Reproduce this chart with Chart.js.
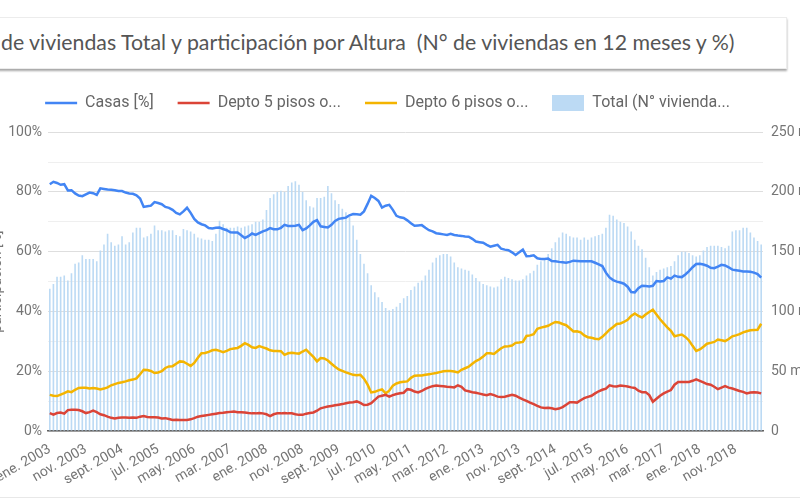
<!DOCTYPE html>
<html lang="es">
<head>
<meta charset="utf-8">
<script src="https://cdn.jsdelivr.net/npm/chart.js@4.4.1/dist/chart.umd.min.js"></script>
<style>
  html, body { margin: 0; padding: 0; background: #fff; }
  body { width: 800px; height: 500px; position: relative; overflow: hidden; }
  #title-box {
    position: absolute; left: -10px; top: 17px; width: 795px; height: 50px;
    border: 1px solid #ececec; background: #fff;
    box-shadow: 0 2px 2px rgba(0,0,0,0.35);
  }
  #title-box span {
    position: absolute; left: 10px; top: 11px;
    font-family: 'Lato', sans-serif; font-size: 21.3px; color: #555; white-space: nowrap;
  }
  #chart-wrap { position: absolute; left: -55px; top: 71px; width: 885px; height: 429px; }
  #bottom-line { position: absolute; left: 0; top: 497px; width: 800px; height: 1px; background: #e8e8e8; }
</style>
</head>
<body>
<div id="title-box"><span>de viviendas Total y participación por Altura&nbsp; (N° de viviendas en 12 meses y %)</span></div>
<div id="chart-wrap"><canvas id="chart"></canvas></div>
<div id="bottom-line"></div>
<script>
// month names used for the category labels (ene. 2003 ... jun. 2019)
const monthNames = ['ene.', 'feb.', 'mar.', 'abr.', 'may.', 'jun.', 'jul.', 'ago.', 'sept.', 'oct.', 'nov.', 'dic.'];
const firstYear = 2003;
const nMonths = 198;
const categories = [];
for (let i = 0; i < nMonths; i++) {
    categories.push(monthNames[i % 12] + ' ' + (firstYear + Math.floor(i / 12)));
}

// Casas [%]
const casas = [
    82.6, 83.4, 83.0, 82.4, 82.6, 80.5, 80.6, 79.5, 78.8, 78.6,
    79.2, 79.8, 79.6, 79.0, 81.2, 81.0, 80.8, 80.7, 80.6, 80.3,
    80.3, 79.8, 79.5, 79.4, 78.9, 77.8, 75.0, 75.2, 75.4, 76.6,
    76.3, 75.9, 75.0, 74.7, 74.0, 73.0, 72.5, 73.5, 74.7, 73.0,
    71.0, 69.8, 69.2, 68.8, 67.9, 67.8, 68.0, 68.1, 67.6, 67.2,
    66.5, 66.4, 66.4, 65.5, 64.6, 65.2, 66.1, 65.6, 66.2, 66.8,
    67.2, 67.9, 67.5, 67.5, 68.0, 69.0, 68.6, 68.6, 68.7, 69.0,
    67.2, 67.8, 68.8, 70.0, 70.6, 68.5, 68.3, 68.1, 69.0, 70.3,
    71.0, 71.2, 71.4, 72.2, 72.6, 72.5, 72.4, 73.5, 76.0, 78.7,
    78.0, 77.0, 74.8, 75.4, 75.7, 74.0, 72.0, 71.5, 71.3, 70.5,
    69.5, 68.7, 68.8, 68.9, 68.0, 67.2, 66.8, 66.2, 66.0, 65.8,
    65.6, 66.0, 65.6, 65.4, 65.3, 65.1, 65.0, 64.3, 63.4, 63.2,
    63.0, 62.3, 61.7, 62.0, 62.3, 61.0, 60.7, 60.5, 59.8, 58.9,
    59.8, 60.7, 58.5, 58.6, 58.8, 57.8, 57.6, 57.6, 57.7, 56.9,
    56.8, 56.6, 56.5, 56.3, 56.6, 57.0, 56.9, 56.8, 56.8, 56.8,
    56.8, 56.3, 55.8, 55.2, 53.0, 51.4, 50.5, 50.0, 49.7, 49.3,
    48.3, 46.5, 46.4, 47.8, 48.6, 48.5, 48.4, 48.6, 50.2, 50.0,
    50.2, 51.4, 51.0, 52.0, 51.6, 51.5, 52.4, 53.5, 54.8, 55.9,
    56.0, 55.7, 55.3, 54.6, 54.5, 55.0, 55.6, 55.4, 54.8, 54.0,
    53.8, 53.6, 53.4, 53.4, 53.3, 53.0, 52.5, 51.3
];

// Depto 5 pisos o menos [%]
const depto5 = [
    6.0, 5.5, 6.0, 6.2, 5.8, 7.0, 7.1, 7.1, 7.0, 6.6,
    6.0, 6.3, 6.8, 6.3, 5.6, 5.3, 4.8, 4.4, 4.2, 4.4,
    4.5, 4.5, 4.4, 4.5, 4.4, 4.8, 5.0, 4.7, 4.6, 4.6,
    4.5, 4.2, 4.3, 4.0, 3.7, 3.8, 3.7, 3.7, 3.7, 3.9,
    4.3, 4.8, 5.0, 5.2, 5.4, 5.6, 5.8, 6.0, 6.1, 6.3,
    6.4, 6.5, 6.3, 6.3, 6.2, 6.0, 5.9, 5.9, 6.0, 5.9,
    5.6, 5.0, 5.6, 5.9, 5.9, 6.0, 5.9, 5.9, 5.6, 5.4,
    5.4, 5.8, 6.0, 6.2, 6.8, 7.6, 7.9, 8.2, 8.4, 8.6,
    8.8, 9.0, 9.3, 9.5, 9.6, 9.9, 9.4, 8.7, 8.8, 9.3,
    10.4, 11.5, 11.8, 12.1, 11.5, 12.0, 12.4, 12.6, 12.8, 14.0,
    13.8, 13.2, 12.9, 13.4, 14.1, 14.6, 15.0, 15.2, 15.1, 15.0,
    14.8, 14.7, 14.6, 15.3, 14.8, 13.6, 13.3, 13.0, 12.8, 12.5,
    12.2, 12.0, 12.4, 12.0, 11.5, 11.4, 11.5, 11.8, 12.1, 11.8,
    11.2, 10.6, 10.1, 9.5, 9.0, 8.4, 7.9, 7.7, 7.8, 7.6,
    7.3, 7.5, 8.0, 8.8, 9.6, 9.6, 9.5, 10.3, 11.0, 11.4,
    11.8, 12.6, 13.3, 13.8, 14.2, 15.3, 15.0, 14.9, 15.2, 15.1,
    14.9, 14.6, 14.4, 13.5, 13.0, 13.0, 12.0, 9.8, 10.8, 11.8,
    12.6, 13.2, 13.7, 15.5, 16.4, 16.4, 16.4, 16.4, 16.8, 17.3,
    16.8, 16.3, 15.7, 15.5, 14.8, 14.0, 14.5, 15.0, 14.5, 14.2,
    13.8, 13.4, 13.1, 12.6, 12.9, 13.0, 12.9, 12.6
];

// Depto 6 pisos o más [%]
const depto6 = [
    12.1, 11.8, 11.7, 12.2, 12.7, 13.3, 13.0, 13.8, 14.4, 14.5,
    14.5, 14.2, 14.4, 14.2, 13.9, 14.2, 14.6, 15.3, 15.7, 16.1,
    16.3, 16.6, 17.0, 17.2, 17.6, 19.0, 20.5, 20.4, 20.1, 19.4,
    19.6, 20.0, 21.1, 21.6, 21.7, 22.5, 23.3, 23.2, 22.5, 21.8,
    22.8, 24.5, 26.0, 26.1, 26.5, 27.0, 27.2, 26.8, 26.4, 26.8,
    27.4, 27.6, 27.8, 28.5, 29.4, 28.8, 28.0, 27.8, 28.4, 28.0,
    27.6, 27.0, 26.8, 26.8, 26.7, 25.5, 26.0, 26.2, 26.0, 25.9,
    26.6, 27.2, 26.0, 24.8, 23.3, 24.4, 24.3, 23.6, 22.5, 21.5,
    20.6, 20.1, 19.6, 19.2, 18.8, 18.7, 18.8, 17.5, 15.5, 12.9,
    13.1, 13.6, 13.9, 12.6, 13.5, 15.2, 15.9, 16.3, 16.5, 16.6,
    17.8, 18.5, 18.6, 18.6, 18.8, 19.0, 19.2, 19.4, 19.7, 20.0,
    20.1, 20.1, 19.9, 19.6, 20.5, 21.0, 21.5, 22.5, 23.4, 24.0,
    24.9, 26.0, 26.0, 25.8, 26.8, 27.7, 28.3, 28.4, 28.6, 29.5,
    29.6, 29.8, 31.8, 32.0, 32.4, 34.2, 34.6, 34.9, 35.2, 35.9,
    36.5, 36.3, 35.8, 35.4, 34.4, 33.3, 33.4, 33.0, 32.0, 31.4,
    31.2, 30.9, 30.7, 31.5, 32.7, 33.9, 34.8, 35.8, 36.0, 36.5,
    37.2, 38.5, 39.3, 38.5, 38.0, 39.0, 39.8, 40.6, 39.0, 37.4,
    36.0, 34.7, 33.5, 31.7, 32.0, 32.3, 31.5, 30.3, 28.5, 26.8,
    27.3, 28.2, 29.2, 29.5, 29.8, 30.6, 30.4, 30.1, 30.8, 31.7,
    32.0, 32.4, 33.0, 33.4, 33.7, 33.8, 33.9, 35.9
];

// Total (N° viviendas, miles, 12 meses)
const total = [
    119, 123, 129, 129, 130, 126, 132, 140, 141, 147,
    144, 144, 144, 142, 151, 156, 165, 158, 155, 156,
    163, 156, 158, 166, 170, 170, 162, 163, 165, 172,
    168, 168, 167, 168, 168, 164, 163, 169, 168, 167,
    165, 162, 161, 160, 160, 159, 165, 176, 173, 170,
    170, 170, 171, 170, 171, 172, 173, 175, 175, 177,
    185, 195, 198, 200, 201, 200, 205, 208, 209, 206,
    200, 193, 188, 187, 195, 195, 196, 205, 199, 193,
    190, 186, 183, 179, 172, 160, 148, 140, 132, 122,
    116, 112, 108, 103, 101, 102, 104, 107, 111, 113,
    118, 121, 124, 126, 130, 135, 141, 145, 147, 148,
    148, 146, 141, 137, 136, 135, 134, 131, 128, 125,
    123, 122, 121, 120, 121, 127, 129, 128, 127, 126,
    126, 127, 130, 132, 134, 139, 142, 144, 148, 153,
    158, 162, 166, 165, 163, 162, 162, 160, 162, 160,
    162, 163, 164, 165, 170, 181, 180, 177, 175, 174,
    171, 167, 160, 155, 152, 145, 137, 130, 133, 135,
    136, 137, 138, 142, 147, 150, 150, 149, 147, 146,
    147, 151, 154, 155, 155, 155, 154, 153, 155, 167,
    168, 168, 170, 170, 166, 162, 159, 156
];

const seriesLabels = ['Casas [%]', 'Depto 5 pisos o...', 'Depto 6 pisos o...', 'Total (N° vivienda...'];
const leftTitle = 'participación [%]';

const blue = '#4285f4';
const red = '#db4437';
const yellow = '#f4b400';
const barColor = '#bcdaf4';
const axisText = '#757575';

// legend swatch for the bar series (wide box)
const barSwatch = document.createElement('canvas');
barSwatch.width = 32;
barSwatch.height = 16;
const sctx = barSwatch.getContext('2d');
sctx.fillStyle = barColor;
sctx.fillRect(0, 0, 32, 16);

Chart.defaults.font.family = 'Roboto';

new Chart(document.getElementById('chart'), {
    data: {
        labels: categories,
        datasets: [
            { type: 'line', label: seriesLabels[0], data: casas, borderColor: blue, backgroundColor: blue, borderWidth: 2.5, pointRadius: 0, pointStyle: 'line', tension: 0, yAxisID: 'y', order: 0 },
            { type: 'line', label: seriesLabels[1], data: depto5, borderColor: red, backgroundColor: red, borderWidth: 2.5, pointRadius: 0, pointStyle: 'line', tension: 0, yAxisID: 'y', order: 0 },
            { type: 'line', label: seriesLabels[2], data: depto6, borderColor: yellow, backgroundColor: yellow, borderWidth: 2.5, pointRadius: 0, pointStyle: 'line', tension: 0, yAxisID: 'y', order: 0 },
            { type: 'bar', label: seriesLabels[3], data: total, backgroundColor: barColor, barPercentage: 0.45, categoryPercentage: 1, yAxisID: 'y1', order: 1, pointStyle: barSwatch }
        ]
    },
    options: {
        responsive: true,
        maintainAspectRatio: false,
        animation: false,
        layout: { padding: 0 },
        plugins: {
            tooltip: { enabled: false },
            // empty spacer between legend and plot
            title: {
                display: true,
                text: ' ',
                weight: 500,
                font: { size: 1 },
                padding: { top: 0, bottom: 10 }
            },
            legend: {
                position: 'top',
                labels: {
                    usePointStyle: true,
                    pointStyleWidth: 32,
                    padding: 24,
                    color: '#666',
                    font: { size: 16 }
                }
            }
        },
        scales: {
            x: {
                offset: true,
                grid: { display: false },
                border: { color: '#616161', width: 1.5 },
                ticks: {
                    autoSkip: false,
                    maxRotation: 30,
                    minRotation: 30,
                    color: axisText,
                    font: { size: 14 },
                    padding: 2,
                    callback: (val, idx) => idx % 10 === 0 ? categories[idx] : null
                },
                afterFit: (scale) => { scale.height = 69; }
            },
            y: {
                position: 'left',
                min: 0,
                max: 100,
                border: { display: false },
                grid: {
                    drawTicks: false,
                    color: (ctx) => ctx.tick && ctx.tick.value % 20 === 0 ? '#dedede' : '#efefef'
                },
                ticks: {
                    stepSize: 10,
                    padding: 6,
                    color: axisText,
                    font: { size: 14 },
                    callback: (v) => v % 20 === 0 ? v + '%' : ''
                },
                title: {
                    display: true,
                    text: leftTitle,
                    color: axisText,
                    font: { size: 14 },
                    padding: { top: 44, bottom: 0 }
                },
                afterFit: (scale) => { scale.width = 103; }
            },
            y1: {
                position: 'right',
                min: 0,
                max: 250,
                border: { display: false },
                grid: { drawOnChartArea: false, drawTicks: false },
                ticks: {
                    stepSize: 50,
                    padding: 8,
                    color: axisText,
                    font: { size: 14 },
                    callback: (v) => v === 0 ? '0' : v + ' mil'
                },
                afterFit: (scale) => { scale.width = 67; }
            }
        }
    }
});
</script>
</body>
</html>
